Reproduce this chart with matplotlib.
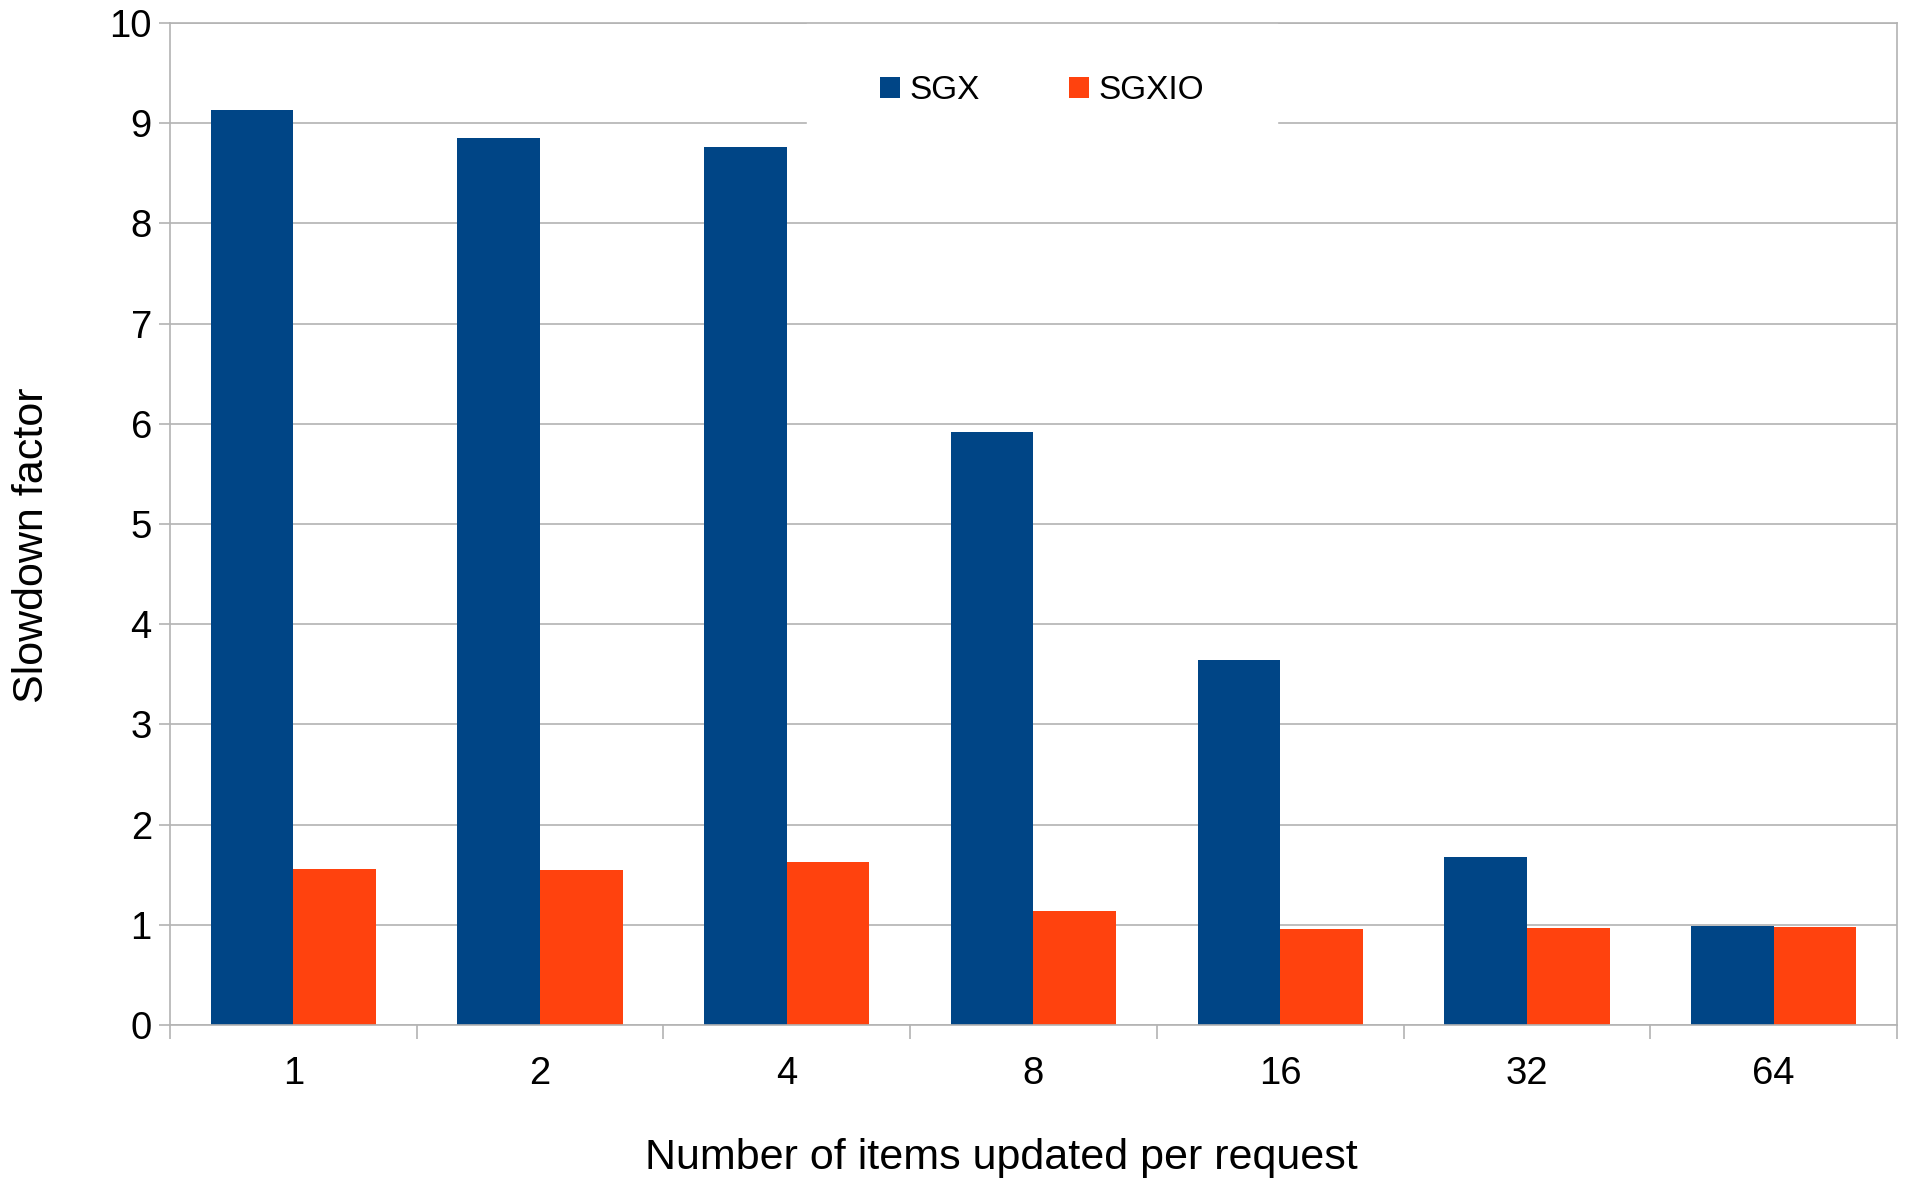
import numpy as np
import matplotlib.pyplot as plt
from matplotlib.ticker import FixedLocator

plt.rcParams['font.family'] = ['Liberation Sans', 'DejaVu Sans']

items = ['1', '2', '4', '8', '16', '32', '64']
sgx = [9.13, 8.85, 8.76, 5.92, 3.64, 1.68, 0.99]
sgxio = [1.56, 1.55, 1.63, 1.14, 0.96, 0.97, 0.98]

blue = '#004586'
orange = '#ff420e'
grey = '#b3b3b3'

fig = plt.figure(figsize=(19.05, 11.79), dpi=100)
ax = fig.add_axes([0.0892, 0.1306, 0.9066, 0.85])

x = np.arange(len(items))
w = 0.335
ax.bar(x - w / 2, sgx, width=w, color=blue, label='SGX', zorder=3)
ax.bar(x + w / 2, sgxio, width=w, color=orange, label='SGXIO', zorder=3)

ax.set_xlim(-0.5, len(items) - 0.5)
ax.set_ylim(0, 10)
ax.set_yticks(range(0, 11))
ax.set_xticks(x)
ax.set_xticklabels(items)
ax.xaxis.set_minor_locator(FixedLocator(np.arange(-0.5, len(items), 1.0)))

ax.grid(axis='y', color=grey, linewidth=1.2, zorder=0)
for s in ax.spines.values():
    s.set_color(grey)
    s.set_linewidth(1.2)
    s.set_zorder(6)

ax.tick_params(axis='y', length=8, width=1.2, color=grey, labelsize=27.5, pad=5)
ax.tick_params(axis='x', which='major', length=0, labelsize=27.5, pad=22)
ax.tick_params(axis='x', which='minor', length=10, width=1.2, color=grey)

ax.set_ylabel('Slowdown factor', fontsize=31)
ax.set_xlabel('Number of items updated per request', fontsize=31)
ax.yaxis.set_label_coords(-0.068, 0.479)
ax.xaxis.set_label_coords(0.4817, -0.113)

leg = ax.legend(loc='upper center', bbox_to_anchor=(0.505, 0.978), ncol=2,
                frameon=True, fontsize=24, handlelength=0.6, handleheight=0.6,
                handletextpad=0.26, columnspacing=2.7, borderpad=0.9,
                borderaxespad=0)
frame = leg.get_frame()
frame.set_edgecolor('white')
frame.set_facecolor('white')
frame.set_alpha(1)
# extra padding so the white patch hides the gridline behind the legend
frame.set_boxstyle('square', pad=1.3)
leg.set_zorder(5)

fig.savefig('out.png', dpi=100)
